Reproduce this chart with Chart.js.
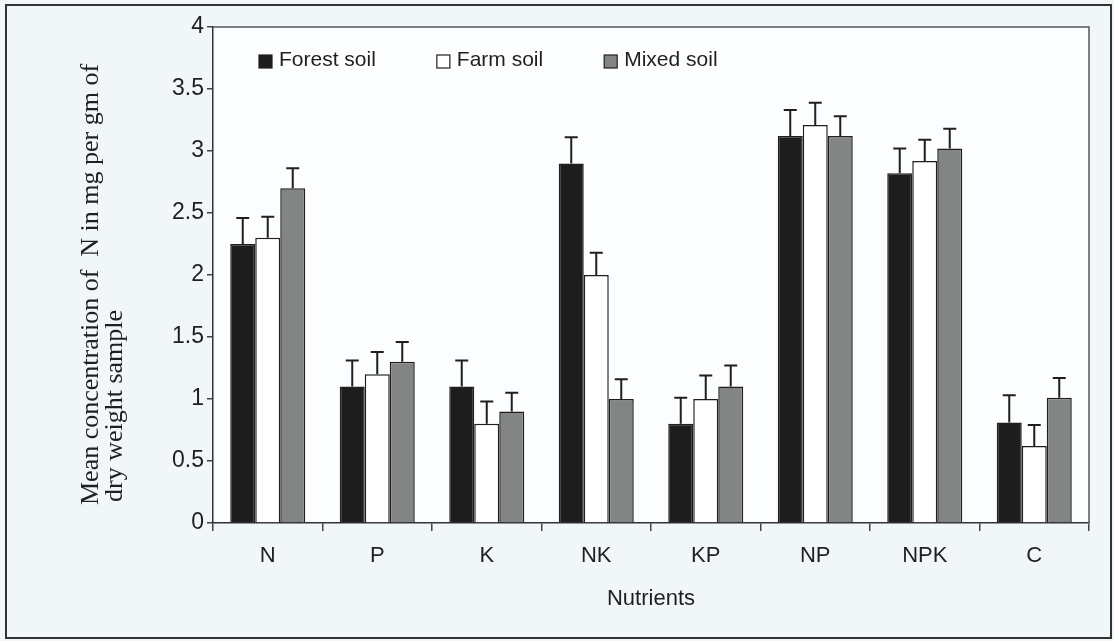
<!DOCTYPE html>
<html><head><meta charset="utf-8">
<script src="https://cdn.jsdelivr.net/npm/chart.js@4.4.1/dist/chart.umd.min.js"></script>
<style>html,body{margin:0;padding:0;background:#f1f6f9;}canvas{display:block}</style>
</head><body>
<canvas id="c" width="1114" height="641"></canvas>
<script>
// ---- data ----
const categories = ['N', 'P', 'K', 'NK', 'KP', 'NP', 'NPK', 'C'];
const seriesNames = ['Forest soil', 'Farm soil', 'Mixed soil'];
const forestSoil = [2.25, 1.1, 1.1, 2.9, 0.8, 3.12, 2.82, 0.81];
const farmSoil   = [2.3, 1.2, 0.8, 2.0, 1.0, 3.21, 2.92, 0.62];
const mixedSoil  = [2.7, 1.3, 0.9, 1.0, 1.1, 3.12, 3.02, 1.01];
const forestErr  = [0.21, 0.21, 0.21, 0.21, 0.21, 0.21, 0.2, 0.22];
const farmErr    = [0.17, 0.18, 0.18, 0.18, 0.19, 0.18, 0.17, 0.17];
const mixedErr   = [0.16, 0.16, 0.15, 0.16, 0.17, 0.16, 0.16, 0.16];
const yTickValues = [0, 0.5, 1, 1.5, 2, 2.5, 3, 3.5, 4];
const yTitleLines = ['Mean concentration of  N in mg per gm of', 'dry weight sample'];
const xTitle = 'Nutrients';

const SANS = '"Liberation Sans", Arial, sans-serif';
const SERIF = '"Liberation Serif", "Times New Roman", serif';
const INK = '#1f1f1f';

const errs = [forestErr, farmErr, mixedErr];

const deco = {
  id: 'deco',
  beforeDraw(chart) {
    const ctx = chart.ctx, a = chart.chartArea;
    ctx.save();
    ctx.fillStyle = '#f1f6f9';
    ctx.fillRect(0, 0, chart.width, chart.height);
    ctx.fillStyle = '#fbfdfe';
    ctx.fillRect(a.left, a.top, a.right - a.left, a.bottom - a.top);
    ctx.strokeStyle = '#333';
    ctx.lineWidth = 2;
    ctx.strokeRect(6, 5, 1105, 633);
    ctx.restore();
  },
  afterDatasetsDraw(chart) {
    const ctx = chart.ctx, a = chart.chartArea, ys = chart.scales.y;
    ctx.save();
    // plot frame top/right
    ctx.strokeStyle = '#555';
    ctx.lineWidth = 1.5;
    ctx.beginPath();
    ctx.moveTo(a.left, a.top); ctx.lineTo(a.right, a.top); ctx.lineTo(a.right, a.bottom);
    ctx.stroke();
    // error bars (upper only)
    ctx.strokeStyle = INK;
    ctx.lineWidth = 2;
    chart.data.datasets.forEach((ds, di) => {
      const meta = chart.getDatasetMeta(di);
      meta.data.forEach((el, i) => {
        const top = ys.getPixelForValue(ds.data[i] + errs[di][i]);
        ctx.beginPath();
        ctx.moveTo(el.x, el.y);
        ctx.lineTo(el.x, top);
        ctx.moveTo(el.x - 6.5, top);
        ctx.lineTo(el.x + 6.5, top);
        ctx.stroke();
      });
    });
    // legend
    ctx.font = '21px ' + SANS;
    ctx.textBaseline = 'middle';
    let x = a.left + 46;
    const ly = 61;
    chart.data.datasets.forEach((ds) => {
      ctx.fillStyle = ds.backgroundColor;
      ctx.fillRect(x, ly - 6, 13, 13);
      ctx.strokeStyle = INK; ctx.lineWidth = 1.2;
      ctx.strokeRect(x, ly - 6, 13, 13);
      ctx.fillStyle = INK;
      ctx.fillText(ds.label, x + 20, ly - 1);
      x += 20 + ctx.measureText(ds.label).width + 61;
    });
    // x title
    ctx.font = '22px ' + SANS;
    ctx.textAlign = 'center';
    ctx.fillText(xTitle, (a.left + a.right) / 2, 599);
    // y title
    ctx.font = '26px ' + SERIF;
    ctx.textAlign = 'left';
    ctx.textBaseline = 'alphabetic';
    const starts = [[98, 505], [122, 502]];
    yTitleLines.forEach((t, i) => {
      ctx.save();
      ctx.translate(starts[i][0], starts[i][1]);
      ctx.rotate(-Math.PI / 2);
      ctx.fillText(t, 0, 0);
      ctx.restore();
    });
    ctx.restore();
  }
};

new Chart(document.getElementById('c'), {
  type: 'bar',
  data: {
    labels: categories,
    datasets: [
      { label: seriesNames[0], data: forestSoil, backgroundColor: '#1c1d1c' },
      { label: seriesNames[1], data: farmSoil, backgroundColor: '#ffffff' },
      { label: seriesNames[2], data: mixedSoil, backgroundColor: '#838584' }
    ].map(d => Object.assign(d, { borderColor: INK, borderWidth: 1.5, categoryPercentage: 0.685, barPercentage: 1.0 }))
  },
  options: {
    responsive: false,
    animation: false,
    events: [],
    layout: { padding: { left: 0, right: 25, top: 27, bottom: 0 } },
    plugins: { legend: { display: false }, tooltip: { enabled: false } },
    scales: {
      x: {
        afterFit(s) { s.height = 118; },
        grid: { offset: true, drawOnChartArea: false, drawTicks: true, tickLength: 8, color: '#444', lineWidth: 1.5 },
        border: { display: true, color: '#333', width: 1.5 },
        ticks: { color: INK, font: { family: SANS, size: 22 }, padding: 12, maxRotation: 0 }
      },
      y: {
        min: 0, max: 4,
        afterFit(s) { s.width = 213; },
        afterBuildTicks(s) { s.ticks = yTickValues.map(v => ({ value: v })); },
        grid: { drawOnChartArea: false, drawTicks: true, tickLength: 6, color: '#444', lineWidth: 1.5 },
        border: { display: true, color: '#333', width: 1.5 },
        ticks: { color: INK, font: { family: SANS, size: 23 }, padding: 3, callback: v => String(v) }
      }
    }
  },
  plugins: [deco]
});
</script>
</body></html>
